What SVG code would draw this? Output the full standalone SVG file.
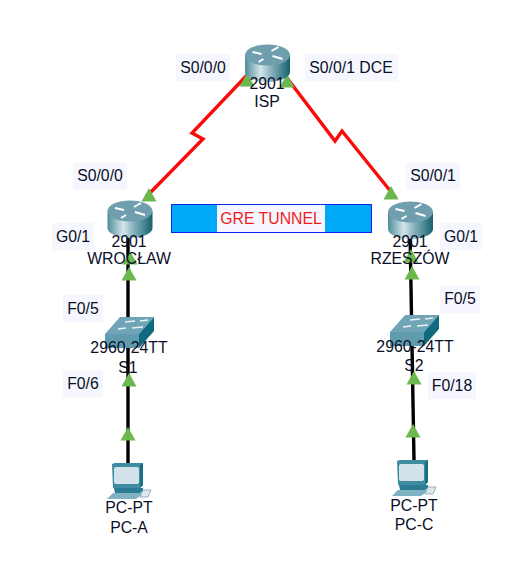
<svg xmlns="http://www.w3.org/2000/svg" width="532" height="567" viewBox="0 0 532 567">
<style>
text{font-family:"Liberation Sans",Arial,sans-serif;font-size:15.8px;fill:#0a0f28;text-anchor:middle}
.lb{fill:#f6f7fe}
.red{fill:none;stroke:#fb0a0a;stroke-width:3.4}
.blk{fill:none;stroke:#000;stroke-width:3.4}
.tri{fill:#6cb74e}
</style>
<defs>
<linearGradient id="rg" x1="0" x2="1" y1="0" y2="0">
<stop offset="0" stop-color="#4f8c9c"/><stop offset=".35" stop-color="#d5e5ea"/><stop offset=".55" stop-color="#8fb8c4"/><stop offset="1" stop-color="#17606f"/>
</linearGradient>
<g id="router">
<path d="M-22.500 -9V8A22.500 10 0 0 0 22.500 8V-9Z" fill="url(#rg)"/>
<ellipse cx="0" cy="-9" rx="22.500" ry="10.500" fill="#6f9fae"/>
<path d="M-15 -12L-6 -10M-4 -5L-9 -2M4 -13L11 -17M5 -8L15 -5" stroke="#fff" stroke-width="2" fill="none"/>
</g>
<g id="switch">
<path d="M0 9L15 -8H49L34 9Z" fill="#6fa5b6"/>
<path d="M0 9H34V23H0Z" fill="#609bae"/>
<path d="M34 9L49 -8V6L34 23Z" fill="#0f6a80"/>
<path d="M13 4L21 3M27 3L38 2M20 -3L30 -4M35 -4L43 -5" stroke="#e8f2f5" stroke-width="1.500" fill="none"/>
</g>
<g id="pc">
<path d="M5 1L8 0H36V22L33 25H6Z" fill="#3f8ba0"/>
<path d="M33 2L36 0V22L33 25Z" fill="#1c6f85"/>
<rect x="7" y="4" width="25" height="17" rx="2" fill="#d2e2ea"/>
<path d="M7 25H36V28L33 30H8Z" fill="#2b7c92"/>
<path d="M6 30H37L29 36H0Z" fill="#7fb2c2"/>
<path d="M36 27H44L41 34H33Z" fill="#dbe8ec" stroke="#7fa5b0" stroke-width=".8"/>
</g>
<path id="t" class="tri" d="M0 0L7.500 13.500H-7.500Z"/>
</defs>
<rect width="532" height="567" fill="#fff"/>
<g id="connectors">
<polyline class="red" points="250,72 192,133 203,139 146,197"/>
<polyline class="red" points="284,74 335,141 342,131 396,198"/>
<line class="blk" x1="128" y1="230" x2="128" y2="463"/>
<line class="blk" x1="410" y1="230" x2="414" y2="460"/>
</g>
<g id="labels">
<rect class="lb" x="176" y="54" width="54" height="27"/><text x="203" y="73">S0/0/0</text>
<rect class="lb" x="305" y="54" width="93" height="27"/><text x="351" y="73">S0/0/1 DCE</text>
<rect class="lb" x="73" y="163" width="54" height="27"/><text x="100" y="181">S0/0/0</text>
<rect class="lb" x="406" y="163" width="54" height="27"/><text x="433" y="181">S0/0/1</text>
<rect class="lb" x="52" y="223" width="42" height="27"/><text x="73" y="242">G0/1</text>
<rect class="lb" x="440" y="223" width="42" height="27"/><text x="461" y="242">G0/1</text>
<rect class="lb" x="63" y="295" width="40" height="27"/><text x="83" y="314">F0/5</text>
<rect class="lb" x="440" y="286" width="40" height="27"/><text x="460" y="304">F0/5</text>
<rect class="lb" x="63" y="370" width="40" height="27"/><text x="83" y="389">F0/6</text>
<rect class="lb" x="428" y="372" width="48" height="27"/><text x="452" y="391">F0/18</text>
</g>
<g id="tunnel">
<rect x="171.500" y="204.500" width="200" height="28" fill="#00a8f8" stroke="#0a28f0"/>
<rect x="217" y="205" width="108" height="27" fill="#f6f7fe"/>
<text x="271" y="224" style="fill:#f01c1c">GRE TUNNEL</text>
</g>
<g id="endpoints">
<use href="#t" x="247" y="73"/><use href="#t" x="287" y="74"/>
<use href="#t" x="149" y="188"/><use href="#t" x="391" y="186"/>
<use href="#t" x="130" y="251"/><use href="#t" x="129" y="267"/>
<use href="#t" x="411" y="249"/><use href="#t" x="412" y="266"/>
<use href="#t" x="129" y="373"/><use href="#t" x="414" y="371"/>
<use href="#t" x="128" y="427"/><use href="#t" x="413" y="424"/>
</g>
<g id="isp"><use href="#router" x="267.500" y="64"/><text x="267" y="89">2901</text><text x="267" y="107">ISP</text></g>
<g id="wroclaw"><use href="#router" x="130" y="220"/><text x="129" y="247">2901</text><text x="129" y="264">WROCŁAW</text></g>
<g id="rzeszow"><use href="#router" x="410.500" y="221"/><text x="410" y="247">2901</text><text x="410" y="264">RZESZÓW</text></g>
<g id="s1"><use href="#switch" x="105" y="325"/><text x="129" y="353">2960-24TT</text><text x="128" y="373">S1</text></g>
<g id="s2"><use href="#switch" x="390" y="323"/><text x="415" y="352">2960-24TT</text><text x="414" y="371">S2</text></g>
<g id="pca"><use href="#pc" x="107" y="463"/><text x="129" y="513">PC-PT</text><text x="129" y="533">PC-A</text></g>
<g id="pcc"><use href="#pc" x="392" y="460"/><text x="414" y="511">PC-PT</text><text x="414" y="530">PC-C</text></g>
</svg>
